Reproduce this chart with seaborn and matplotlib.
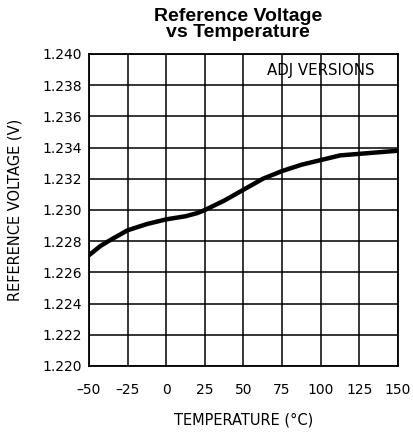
import matplotlib
matplotlib.use("Agg")
import matplotlib.pyplot as plt
import seaborn as sns
import pandas as pd

temperature = [-50, -42.5, -37.5, -25, -12.5, 0, 12.5, 20, 25, 37.5, 50, 62.5, 75, 87.5, 100, 112.5, 125, 137.5, 150]
voltage = [1.2271, 1.2277, 1.2280, 1.2287, 1.2291, 1.2294, 1.2296, 1.2298, 1.2300, 1.2306, 1.2313, 1.2320, 1.2325,
           1.2329, 1.2332, 1.2335, 1.2336, 1.2337, 1.2338]
x_ticks = [-50, -25, 0, 25, 50, 75, 100, 125, 150]
y_ticks = [1.220, 1.222, 1.224, 1.226, 1.228, 1.230, 1.232, 1.234, 1.236, 1.238, 1.240]

sns.set_style("white", {"text.color": "black", "axes.labelcolor": "black",
                        "xtick.color": "black", "ytick.color": "black"})
plt.rcParams['font.family'] = ['DejaVu Sans']

df = pd.DataFrame({"T": temperature, "V": voltage})

fig = plt.figure(figsize=(4.14, 4.34), dpi=100)
ax = fig.add_axes([89/414, 1 - 366/434, 309/414, 312/434])

sns.lineplot(data=df, x="T", y="V", ax=ax, color="black", linewidth=3.2)

ax.set_xlim(-50, 150)
ax.set_ylim(1.220, 1.240)
ax.set_xticks(x_ticks)
ax.set_yticks(y_ticks)
ax.set_xticklabels([str(t).replace('-', '\u2013') for t in x_ticks], fontsize=10, color="black")
ax.set_yticklabels([f"{v:.3f}" for v in y_ticks], fontsize=10, color="black")
ax.grid(True, color="black", linewidth=1.1)
ax.tick_params(axis="y", length=0, pad=5)
ax.tick_params(axis="x", length=0, pad=12)
for s in ax.spines.values():
    s.set_color("black")
    s.set_linewidth(1.3)

ax.set_xlabel("TEMPERATURE (°C)", fontsize=10.5, va="center", color="black")
ax.xaxis.set_label_coords(0.5, -0.173)
ax.set_ylabel("REFERENCE VOLTAGE (V)", fontsize=10.5, va="center", color="black")
ax.yaxis.set_label_coords(-0.239, 0.5)
ax.text(0.75, 0.946, "ADJ VERSIONS", transform=ax.transAxes, ha="center", va="center",
        fontsize=10.8, color="black")

fig.text(238/414, 1 - 8/434, "Reference Voltage\nvs Temperature",
         ha="center", va="top", fontsize=14, fontweight="bold", linespacing=0.95,
         family=["Liberation Sans", "DejaVu Sans"], color="black")

fig.savefig("out.png", dpi=100)
